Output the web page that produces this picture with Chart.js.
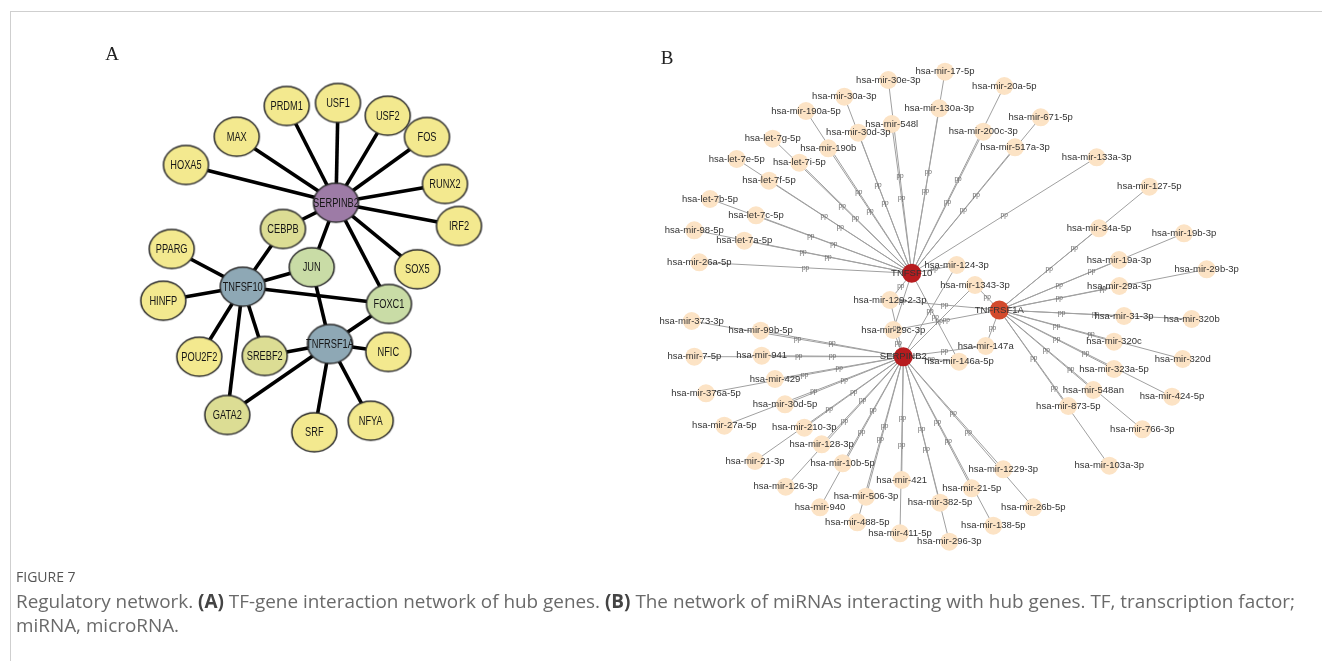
<!DOCTYPE html>
<html>
<head>
<meta charset="utf-8">
<title>Regulatory network</title>
<script src="https://cdn.jsdelivr.net/npm/chart.js@4.4.1/dist/chart.umd.min.js"></script>
<style>
  html, body { margin: 0; padding: 0; background: #fff; }
  #wrap { position: absolute; left: 0; top: 0; width: 1322px; height: 661px; }
  .frame-top { position: absolute; left: 10px; top: 11px; width: 1312px; height: 1px; background: #cfcfcf; }
  .frame-left { position: absolute; left: 10px; top: 11px; width: 1px; height: 650px; background: #cfcfcf; }
  #fig { position: absolute; left: 16px; top: 567px; font: 14px 'Open Sans', sans-serif; color: #555; }
  #cap { position: absolute; left: 16px; top: 589px; width: 1306px; font: 18.9px/24px 'Open Sans', sans-serif; color: #6a6a6a; white-space: nowrap; }
  #cap b { color: #444; }
</style>
</head>
<body>
<div id="wrap"><canvas id="net"></canvas></div>
<div class="frame-top"></div>
<div class="frame-left"></div>
<div id="fig">FIGURE 7</div>
<div id="cap">Regulatory network. <b>(A)</b> TF-gene interaction network of hub genes. <b>(B)</b> The network of miRNAs interacting with hub genes. TF, transcription factor;<br>miRNA, microRNA.</div>
<script>
// ---- Panel A: TF-gene network (layout coordinates) ----
const tfNames = ['SERPINB2','TNFSF10','TNFRSF1A','PRDM1','USF1','USF2','FOS','MAX','HOXA5','RUNX2','IRF2',
  'CEBPB','PPARG','JUN','HINFP','SOX5','FOXC1','NFIC','SREBF2','POU2F2','GATA2','SRF','NFYA'];
const tfX = [336,242.7,330,286.7,338,387.7,427,236.7,186,445,459,283,171.7,311.7,163.3,417.3,389,388.3,264.7,199.3,227.3,314.3,370.7];
const tfY = [202.7,286.7,344,106,103,115.7,137,136.7,165,184,226,229,249,267.3,300.7,269.3,304,352,356,356.7,415,432.3,420.7];
const tfKind = ['hubP','hubG','hubG','tf','tf','tf','tf','tf','tf','tf','tf',
  'shared','tf','shared2','tf','tf','shared2','tf','shared','tf','shared','tf','tf'];
const tfLinks = {
  'SERPINB2': ['PRDM1','USF1','USF2','FOS','MAX','HOXA5','RUNX2','IRF2','CEBPB','JUN','FOXC1','SOX5'],
  'TNFSF10':  ['PPARG','HINFP','POU2F2','GATA2','SREBF2','CEBPB','JUN','FOXC1'],
  'TNFRSF1A': ['JUN','FOXC1','NFIC','SRF','NFYA','SREBF2','GATA2']
};

// ---- Panel B: miRNA-gene network (layout coordinates) ----
const hubNames = ['TNFSF10','TNFRSF1A','SERPINB2'];
const hubX = [911.7, 999.3, 903.3];
const hubY = [273.3, 310, 356.7];

const mirNames = ['hsa-mir-17-5p','hsa-mir-30e-3p','hsa-mir-30a-3p','hsa-mir-190a-5p','hsa-mir-130a-3p','hsa-mir-548l',
  'hsa-mir-30d-3p','hsa-let-7g-5p','hsa-mir-190b','hsa-let-7e-5p','hsa-let-7i-5p','hsa-let-7f-5p','hsa-let-7b-5p',
  'hsa-let-7c-5p','hsa-mir-98-5p','hsa-let-7a-5p','hsa-mir-26a-5p','hsa-mir-20a-5p','hsa-mir-200c-3p','hsa-mir-671-5p',
  'hsa-mir-517a-3p','hsa-mir-133a-3p','hsa-mir-124-3p','hsa-mir-1343-3p','hsa-mir-129-2-3p','hsa-mir-29c-3p',
  'hsa-mir-147a','hsa-mir-146a-5p','hsa-mir-127-5p','hsa-mir-34a-5p','hsa-mir-19b-3p','hsa-mir-19a-3p','hsa-mir-29b-3p',
  'hsa-mir-29a-3p','hsa-mir-31-3p','hsa-mir-320b','hsa-mir-320c','hsa-mir-320d','hsa-mir-323a-5p','hsa-mir-548an',
  'hsa-mir-424-5p','hsa-mir-873-5p','hsa-mir-766-3p','hsa-mir-103a-3p','hsa-mir-1229-3p','hsa-mir-21-5p','hsa-mir-26b-5p',
  'hsa-mir-138-5p','hsa-mir-373-3p','hsa-mir-99b-5p','hsa-mir-7-5p','hsa-mir-941','hsa-mir-429','hsa-mir-376a-5p',
  'hsa-mir-30d-5p','hsa-mir-27a-5p','hsa-mir-210-3p','hsa-mir-128-3p','hsa-mir-21-3p','hsa-mir-10b-5p','hsa-mir-421',
  'hsa-mir-126-3p','hsa-mir-506-3p','hsa-mir-382-5p','hsa-mir-940','hsa-mir-488-5p','hsa-mir-411-5p','hsa-mir-296-3p'];
const mirX = [945,888.3,844.3,806,939.3,891.7,858.3,772.7,828.3,736.7,799.3,769,710,756,694.3,744.3,699.3,1004.3,983.3,1040.7,
  1015,1096.7,956.7,975,890,893.3,985.7,959,1149.3,1099,1184,1119,1206.7,1119.3,1124,1191.7,1114,1182.7,1114,1093.3,
  1172,1068.3,1142.3,1109.3,1003.3,971.7,1033.3,993.3,691.7,760.7,694.3,761.7,775,706,785,724.3,804.3,821.7,755,842.7,
  901.7,785.7,866,940,820,857.3,900,949.3];
const mirY = [71.7,80,96.7,111,108.3,124,132.7,138.7,148.3,159,162.7,180.7,199,215.3,230.3,240.7,262.3,86,131.7,117.3,
  147.3,157.3,265,285,300,330,346,361.7,186.7,228.3,233.3,260,269.3,286,316,319,341.7,359,369,390,396.7,406,429.3,465.7,
  469.3,488.3,507.3,525.7,321,330.7,356.7,355.7,379,393.3,404.3,425.7,427.7,444.3,461,463.3,480,486.7,496.7,502.7,507.3,
  522.3,533.3,541.7];
const mirTargets = {
  'TNFSF10': ['hsa-mir-26a-5p','hsa-mir-98-5p','hsa-let-7a-5p','hsa-let-7b-5p','hsa-let-7c-5p','hsa-let-7e-5p','hsa-let-7f-5p',
    'hsa-let-7g-5p','hsa-let-7i-5p','hsa-mir-190a-5p','hsa-mir-190b','hsa-mir-30a-3p','hsa-mir-30d-3p','hsa-mir-30e-3p',
    'hsa-mir-548l','hsa-mir-17-5p','hsa-mir-130a-3p','hsa-mir-20a-5p','hsa-mir-200c-3p','hsa-mir-671-5p','hsa-mir-517a-3p',
    'hsa-mir-133a-3p','hsa-mir-124-3p','hsa-mir-129-2-3p','hsa-mir-29c-3p','hsa-mir-146a-5p'],
  'TNFRSF1A': ['hsa-mir-127-5p','hsa-mir-34a-5p','hsa-mir-19b-3p','hsa-mir-19a-3p','hsa-mir-29b-3p','hsa-mir-29a-3p',
    'hsa-mir-320b','hsa-mir-31-3p','hsa-mir-320d','hsa-mir-320c','hsa-mir-424-5p','hsa-mir-323a-5p','hsa-mir-766-3p',
    'hsa-mir-548an','hsa-mir-103a-3p','hsa-mir-873-5p','hsa-mir-1343-3p','hsa-mir-147a','hsa-mir-129-2-3p','hsa-mir-29c-3p'],
  'SERPINB2': ['hsa-mir-373-3p','hsa-mir-99b-5p','hsa-mir-7-5p','hsa-mir-941','hsa-mir-429','hsa-mir-376a-5p',
    'hsa-mir-30d-5p','hsa-mir-27a-5p','hsa-mir-210-3p','hsa-mir-128-3p','hsa-mir-21-3p','hsa-mir-10b-5p','hsa-mir-126-3p',
    'hsa-mir-940','hsa-mir-506-3p','hsa-mir-488-5p','hsa-mir-421','hsa-mir-411-5p','hsa-mir-382-5p','hsa-mir-296-3p',
    'hsa-mir-21-5p','hsa-mir-138-5p','hsa-mir-1229-3p','hsa-mir-26b-5p','hsa-mir-29c-3p','hsa-mir-129-2-3p',
    'hsa-mir-146a-5p','hsa-mir-147a','hsa-mir-1343-3p','hsa-mir-124-3p']
};
const edgeType = 'pp';

// ---- styling ----
const tfFill = { hubP: '#9d7ba6', hubG: '#8ea8b5', tf: '#f3e98f', shared: '#dcdd94', shared2: '#c9dca6' };
const hubFill = ['#b71c1f', '#d24a2c', '#b71c1f'];
const mirFill = '#fce3c5';

function ellipseSprite(fill) {
  const rx = 22.5, ry = 19.5, lw = 1.5;
  const c = document.createElement('canvas');
  c.width = Math.ceil(2 * rx + lw + 2);
  c.height = Math.ceil(2 * ry + lw + 2);
  const g = c.getContext('2d');
  g.beginPath();
  g.ellipse(c.width / 2, c.height / 2, rx, ry, 0, 0, Math.PI * 2);
  g.fillStyle = fill; g.fill();
  g.lineWidth = lw; g.strokeStyle = '#2a2a2a'; g.stroke();
  return c;
}
const sprites = {};
Object.keys(tfFill).forEach(k => sprites[k] = ellipseSprite(tfFill[k]));

const tfPos = n => { const i = tfNames.indexOf(n); return { x: tfX[i], y: tfY[i] }; };
const hubPos = n => { const i = hubNames.indexOf(n); return { x: hubX[i], y: hubY[i] }; };
const mirPos = n => { const i = mirNames.indexOf(n); return { x: mirX[i], y: mirY[i] }; };

const datasets = [];
Object.keys(tfLinks).forEach(h => tfLinks[h].forEach(t => datasets.push({
  data: [tfPos(h), tfPos(t)], showLine: true, borderColor: '#000', borderWidth: 3.6,
  pointRadius: 0, order: 30
})));
const mirEdgeList = [];
Object.keys(mirTargets).forEach(h => mirTargets[h].forEach(m => {
  mirEdgeList.push([h, m]);
  datasets.push({
    data: [hubPos(h), mirPos(m)], showLine: true, borderColor: '#a0a0a0', borderWidth: 1,
    pointRadius: 0, order: 30
  });
}));
datasets.push({
  label: 'tf', data: tfNames.map((n, i) => ({ x: tfX[i], y: tfY[i] })),
  pointStyle: tfKind.map(k => sprites[k]), pointRadius: 20, order: 5
});
datasets.push({
  label: 'mir', data: mirNames.map((n, i) => ({ x: mirX[i], y: mirY[i] })),
  pointRadius: 9, backgroundColor: mirFill, borderWidth: 0, order: 6
});
datasets.push({
  label: 'hub', data: hubNames.map((n, i) => ({ x: hubX[i], y: hubY[i] })),
  pointRadius: 9.5, backgroundColor: hubFill, borderWidth: 0, order: 4
});

const labelPlugin = {
  id: 'nodeLabels',
  afterDatasetsDraw(chart) {
    const ctx = chart.ctx, xs = chart.scales.x, ys = chart.scales.y;
    const px = p => [xs.getPixelForValue(p.x), ys.getPixelForValue(p.y)];
    ctx.save();
    ctx.textAlign = 'center';
    ctx.textBaseline = 'middle';

    // interaction type on each miRNA edge
    ctx.font = '6.5px "Liberation Sans", Arial, sans-serif';
    ctx.fillStyle = '#666';
    mirEdgeList.forEach(([h, m]) => {
      const a = px(hubPos(h)), b = px(mirPos(m));
      ctx.fillText(edgeType, (a[0] + b[0]) / 2, (a[1] + b[1]) / 2);
    });

    // miRNA and hub names
    ctx.font = '9.5px "Liberation Sans", Arial, sans-serif';
    ctx.fillStyle = '#333';
    mirNames.forEach((n, i) => {
      const p = px({ x: mirX[i], y: mirY[i] });
      ctx.fillText(n, p[0], p[1]);
    });
    hubNames.forEach((n, i) => {
      const p = px({ x: hubX[i], y: hubY[i] });
      ctx.fillText(n, p[0], p[1]);
    });

    // TF names, condensed
    ctx.font = '12.5px "Liberation Sans", Arial, sans-serif';
    ctx.fillStyle = '#161616';
    tfNames.forEach((n, i) => {
      const p = px({ x: tfX[i], y: tfY[i] });
      ctx.save();
      ctx.translate(p[0], p[1] + 0.5);
      ctx.scale(0.74, 1);
      ctx.fillText(n, 0, 0);
      ctx.restore();
    });

    // panel letters
    ctx.font = '19px "Liberation Serif", "Times New Roman", serif';
    ctx.fillStyle = '#222';
    let p = px({ x: 112, y: 55 });
    ctx.fillText('A', p[0], p[1]);
    p = px({ x: 667, y: 59 });
    ctx.fillText('B', p[0], p[1]);
    ctx.restore();
  }
};

new Chart(document.getElementById('net'), {
  type: 'scatter',
  data: { datasets },
  options: {
    responsive: true,
    maintainAspectRatio: false,
    animation: false,
    events: [],
    layout: { padding: 0, autoPadding: false },
    plugins: { legend: { display: false }, tooltip: { enabled: false } },
    scales: {
      x: { type: 'linear', min: 0, max: 1322, display: false },
      y: { type: 'linear', min: 0, max: 661, reverse: true, display: false }
    }
  },
  plugins: [labelPlugin]
});
</script>
</body>
</html>
